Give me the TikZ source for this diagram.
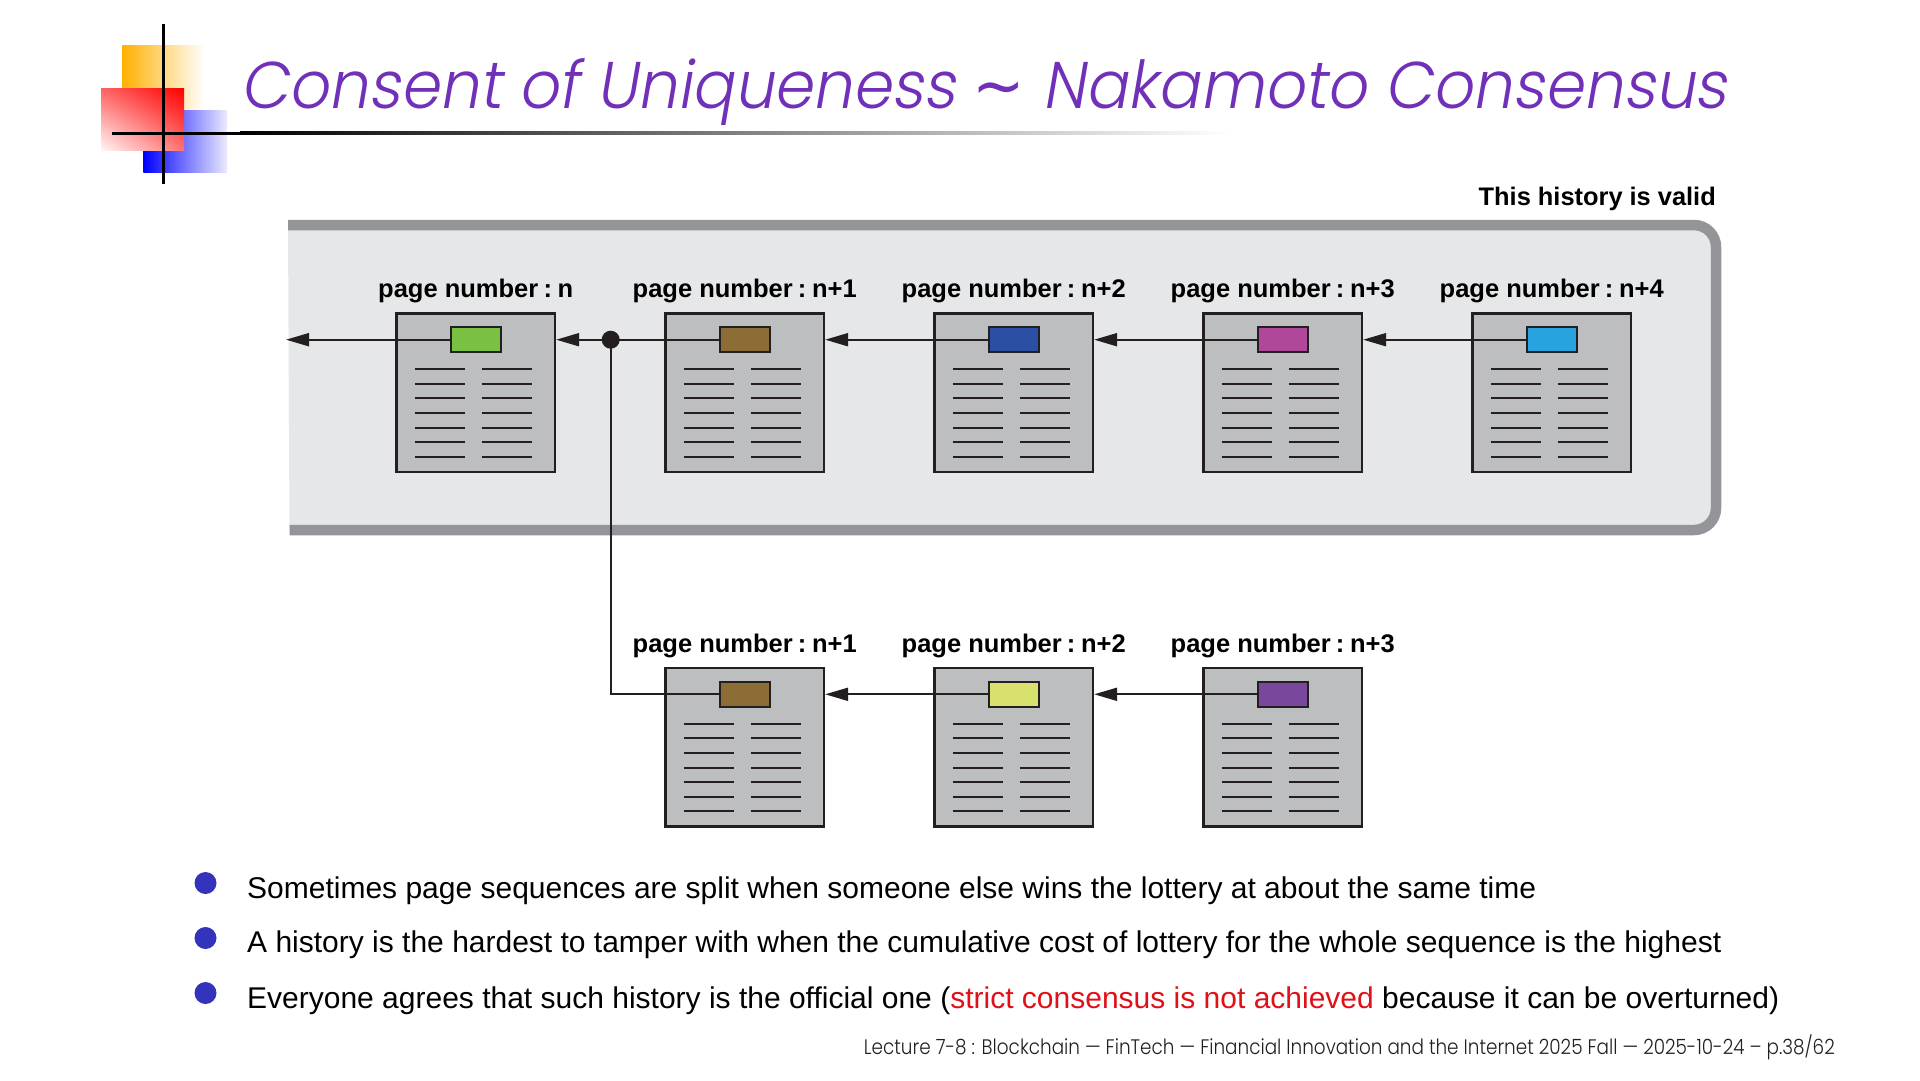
\documentclass[tikz,border=0pt]{standalone}
\usepackage{fontspec}
\setmainfont{Liberation Sans}
\newfontfamily\titlefont[FakeSlant=0.18]{Poppins Light}
\newfontfamily\footfont{Poppins Light}
\newfontfamily\symfont{DejaVu Sans}
\usetikzlibrary{arrows.meta,shadings}
\definecolor{ink}{HTML}{231F20}
\definecolor{titlec}{HTML}{7030B8}
\definecolor{bandc}{HTML}{939598}
\definecolor{panelc}{HTML}{E6E7E8}
\definecolor{pagec}{HTML}{BCBEC0}
\definecolor{bulletc}{HTML}{3333BB}
\definecolor{redtext}{HTML}{E01018}
\definecolor{tgreen}{HTML}{7AC143}
\definecolor{tbrown}{HTML}{8B6D35}
\definecolor{tblue}{HTML}{2B4FA2}
\definecolor{tmagenta}{HTML}{B0479B}
\definecolor{tcyan}{HTML}{27A3DF}
\definecolor{tyellow}{HTML}{D8E06E}
\definecolor{tpurple}{HTML}{7A479E}
\definecolor{orangec}{HTML}{FFB000}
\tikzset{
  pagebox/.style={draw=ink,fill=pagec,line width=2.4pt,minimum width=158.5pt,minimum height=158.5pt,inner sep=0pt,outer sep=1.2pt},
  tagbox/.style={draw=ink,line width=2pt,minimum width=50pt,minimum height=25pt,inner sep=0pt,outer sep=1pt},
  rowline/.style={draw=ink,line width=2pt},
  link/.style={draw=ink,line width=2pt,-{Triangle[length=23pt,width=13pt]}},
  branch/.style={draw=ink,line width=2pt},
  pagelabel/.style={font=\fontsize{25.5}{30}\selectfont\bfseries,text=black,inner sep=0pt,anchor=base},
  bodytext/.style={font=\fontsize{30}{36}\selectfont,text=black,inner sep=0pt,anchor=base west},
  bulletdot/.style={circle,fill=bulletc,minimum size=22pt,inner sep=0pt}
}
% #1 page node name, #2 tag node name, #3 centre x, #4 centre y, #5 tag colour, #6 label
\newcommand{\docpage}[6]{%
  \node[pagebox] (#1) at (#3,#4) {};
  \node[tagbox,fill=#5] (#2) at (#3,#4-53) {};
  \node[pagelabel] (#1l) at (#3,#4-95) {page number\hspace{5.2pt}:\hspace{5.6pt}#6};
  \foreach \k in {0,...,6}{
    \draw[rowline] (#3-61,#4-23.4+\k*14.55) -- (#3-10.3,#4-23.4+\k*14.55);
    \draw[rowline] (#3+6,#4-23.4+\k*14.55) -- (#3+56.7,#4-23.4+\k*14.55);
  }%
}
\begin{document}
\begin{tikzpicture}[x=1pt,y=-1pt]
\useasboundingbox[fill=white] (0,0) rectangle (1920,1081);
% logo
\path[left color=orangec,right color=white] (122.3,46) rectangle (204,110);
\path[left color=blue,right color=blue!8] (143.3,110.7) rectangle (227,172);
\path[upper right=red,upper left=red!60,lower right=red!55,lower left=red!3] (101,89) rectangle (184,150.5);
\fill[black] (162.2,24) rectangle (165.2,184);
\fill[black] (112,131.5) rectangle (240,134.5);
\path[left color=black,right color=white] (240,131.5) rectangle (1230,134.5);
% title
\node[font=\titlefont\fontsize{66}{80}\selectfont,text=titlec,inner sep=0pt,anchor=base west,xscale=0.95] (title) at (240,108) {Consent of Uniqueness {\symfont∼} Nakamoto Consensus};
% panel
\draw[bandc,fill=panelc,line width=10.5pt,rounded corners=22pt] (288,225) -- (1716,225) -- (1716,530) -- (289.5,530);
\node[font=\fontsize{25.4}{30}\selectfont\bfseries,inner sep=0pt,anchor=base east] (valid) at (1716,205) {This history is valid};
% top row
\docpage{p1}{t1}{475.7}{392.7}{tgreen}{n}
\docpage{p2}{t2}{744.7}{392.7}{tbrown}{n+1}
\docpage{p3}{t3}{1013.7}{392.7}{tblue}{n+2}
\docpage{p4}{t4}{1282.7}{392.7}{tmagenta}{n+3}
\docpage{p5}{t5}{1551.7}{392.7}{tcyan}{n+4}
% lower row
\docpage{q2}{u2}{744.7}{747.3}{tbrown}{n+1}
\docpage{q3}{u3}{1013.7}{747.3}{tyellow}{n+2}
\docpage{q4}{u4}{1282.7}{747.3}{tpurple}{n+3}
% connectors
\coordinate (gen) at (286,339.7);
\draw[link] (t1.west) -- (gen);
\draw[link] (t2.west) -- (t2.west -| p1.east);
\draw[link] (t3.west) -- (t3.west -| p2.east);
\draw[link] (t4.west) -- (t4.west -| p3.east);
\draw[link] (t5.west) -- (t5.west -| p4.east);
\draw[link] (u3.west) -- (u3.west -| q2.east);
\draw[link] (u4.west) -- (u4.west -| q3.east);
\node[circle,fill=ink,minimum size=18pt,inner sep=0pt] (fork) at (610.7,339.7) {};
\draw[branch] (fork.center) |- (u2.west);
% bullets
\node[bulletdot] (b1) at (205.5,883) {};
\node[bulletdot] (b2) at (205.5,938) {};
\node[bulletdot] (b3) at (205.5,993) {};
\node[bodytext] (s1) at (247,898) {Sometimes page sequences are split when someone else wins the lottery at about the same time};
\node[bodytext] (s2) at (247,952.5) {A history is the hardest to tamper with when the cumulative cost of lottery for the whole sequence is the highest};
\node[bodytext] (s3) at (247,1008) {Everyone agrees that such history is the official one (\textcolor{redtext}{strict consensus is not achieved} because it can be overturned)};
% footer
\node[font=\footfont\fontsize{21}{25}\selectfont,text=ink,inner sep=0pt,anchor=base east,xscale=0.876] (foot) at (1835,1054) {Lecture 7-8 : Blockchain — FinTech — Financial Innovation and the Internet 2025 Fall — 2025-10-24 – p.38/62};
\end{tikzpicture}
\end{document}
